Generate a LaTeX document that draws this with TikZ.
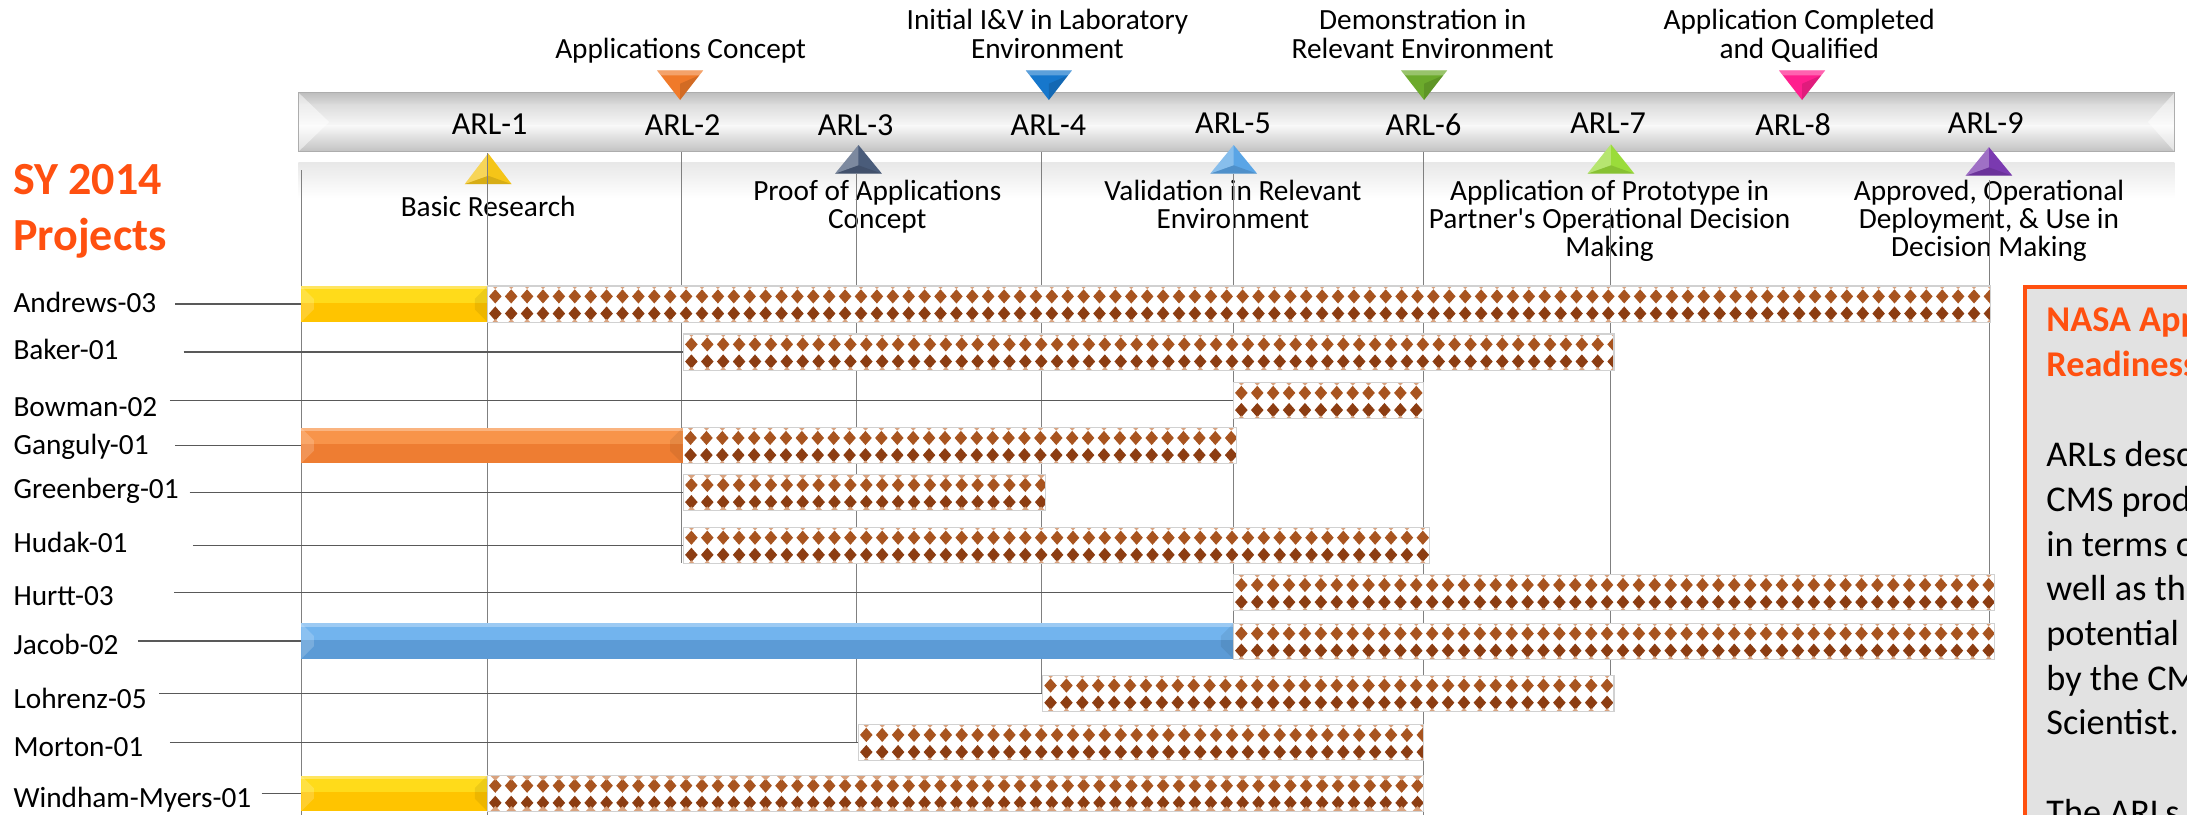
\documentclass[tikz,border=0pt]{standalone}
\usepackage{fontspec}
\setmainfont{Carlito}
\definecolor{ttlorange}{HTML}{FF5010}
\definecolor{boxgray}{HTML}{E2E2E2}
\definecolor{dmdA}{HTML}{A8541F}
\definecolor{dmdB}{HTML}{8C3D12}
\definecolor{tickc}{HTML}{D9A27E}
\definecolor{ylwL}{HTML}{FFDB1A}
\definecolor{ylwD}{HTML}{FFC400}
\definecolor{orgL}{HTML}{F8944A}
\definecolor{orgD}{HTML}{EE7D32}
\definecolor{bluL}{HTML}{72B4EE}
\definecolor{bluD}{HTML}{5C9BD6}
\definecolor{tA}{HTML}{F5C518}
\definecolor{tB}{HTML}{F07A2A}
\definecolor{tC}{HTML}{4A5C7A}
\definecolor{tD}{HTML}{1677CC}
\definecolor{tE}{HTML}{5AA5E6}
\definecolor{tF}{HTML}{6CAA2C}
\definecolor{tG}{HTML}{9ADC3A}
\definecolor{tH}{HTML}{FF1F8E}
\definecolor{tI}{HTML}{7A3AB0}
\definecolor{bnA}{HTML}{BEBEBE}
\definecolor{bnB}{HTML}{DCDCDC}
\definecolor{bnC}{HTML}{F8F8F8}
\definecolor{bnD}{HTML}{C2C2C2}

\newcommand{\patbar}[5]{%
  \node[patbox, minimum width={(#3-#2)*1pt}] (#1) at ({(#2+#3)/2},#4) {};
  \begin{scope}
    \clip (#2,#4-12.75) rectangle (#3,#4+12.75);
    \pgfmathtruncatemacro{\nd}{(#3-#2)/11.4}
    \foreach \k in {0,...,\nd}{
      \pgfmathsetmacro{\xx}{#2+5.7+\k*11.4}
      \fill[dmdA] (\xx,#4-10.6) -- (\xx+4.5,#4-5.5) -- (\xx,#4-0.4) -- (\xx-4.5,#4-5.5) -- cycle;
      \fill[dmdB] (\xx,#4+1.7) -- (\xx+4.5,#4+6.8) -- (\xx,#4+11.9) -- (\xx-4.5,#4+6.8) -- cycle;
      \fill[tickc] (\xx-#5,#4-12.75) -- (\xx+#5,#4-12.75) -- (\xx,#4-12.75+#5) -- cycle;
      \fill[tickc] (\xx-#5,#4+12.75) -- (\xx+#5,#4+12.75) -- (\xx,#4+12.75-#5) -- cycle;
    }
  \end{scope}
  \draw[draw=black!18, line width=0.8pt] (#1.south west) rectangle (#1.north east);
}
\newcommand{\solidbar}[6]{%
  \node[inner sep=0pt, minimum width={(#3-#2)*1pt}, minimum height=25.5pt, fill=#6] (#1) at ({(#2+#3)/2},#4) {};
  \fill[#5] (#2,#4-12.75) rectangle (#3,#4-1);
  \fill[white,opacity=0.3] (#2,#4-12.75) rectangle (#3,#4-10.5);
  \fill[white,opacity=0.18] (#2,#4-12.75) -- (#2+9,#4-3.75) -- (#2+9,#4+3.75) -- (#2,#4+12.75) -- cycle;
  \fill[black,opacity=0.07] (#3,#4-12.75) -- (#3-9,#4-3.75) -- (#3-9,#4+3.75) -- (#3,#4+12.75) -- cycle;
}
\newcommand{\trid}[3]{%
  \fill[#3] (#2-16.5,50.5) -- (#2+16.5,50.5) -- (#2,71.7) -- cycle;
  \fill[white,opacity=.3] (#2-16.5,50.5) -- (#2+16.5,50.5) -- (#2+13.8,54) -- (#2-13.8,54) -- cycle;
  \fill[black,opacity=.12] (#2,71.7) -- (#2+13.8,54) -- (#2,60) -- cycle;
  \coordinate (#1) at (#2,71.7);
}
\newcommand{\triu}[5]{%
  \fill[#5] (#2,#3) -- (#2+16.8,#4) -- (#2-16.8,#4) -- cycle;
  \fill[white,opacity=.28] (#2,#3) -- (#2,#4-6) -- (#2-16.8,#4) -- cycle;
  \fill[black,opacity=.12] (#2-16.8,#4) -- (#2+16.8,#4) -- (#2,#4-6) -- cycle;
  \coordinate (#1) at (#2,#4);
}

\begin{document}
\begin{tikzpicture}[x=1pt,y=-1pt,
  vline/.style={draw=black!50, line width=0.75pt},
  conn/.style={draw=black!65, line width=1pt},
  patbox/.style={fill=white, inner sep=0pt, minimum height=25.5pt},
  rowlab/.style={anchor=base west, inner sep=0pt, font=\fontsize{21}{21}\selectfont},
  arl/.style={anchor=base, inner sep=0pt, font=\fontsize{23}{23}\selectfont},
  mlab/.style={anchor=base, inner sep=0pt, align=center, font=\fontsize{21}{20.3}\selectfont},
  boxtxt/.style={anchor=base west, inner sep=0pt, align=left, font=\fontsize{26}{32}\selectfont}]
\clip (0,0) rectangle (1568,584);
\fill[white] (0,0) rectangle (1568,584);

% banner and its reflection
\shade[top color=black!9, bottom color=white] (214,116.5) rectangle (1559,142);
\shade[top color=bnA, bottom color=bnB] (214,66.4) rectangle (1559,75.5);
\shade[top color=bnB, bottom color=bnC] (214,75) rectangle (1559,90.5);
\shade[top color=bnC, bottom color=bnD] (214,90) rectangle (1559,108.7);
\fill[white,opacity=.5] (214,66.4) -- (236,87.5) -- (214,108.7) -- cycle;
\fill[white,opacity=.5] (1559,66.4) -- (1540,87.5) -- (1559,108.7) -- cycle;
\draw[black!32, line width=0.7pt] (214,66.4) rectangle (1559,108.7);

% milestone triangles
\trid{m2}{487.6}{tB}
\trid{m4}{752}{tD}
\trid{m6}{1021}{tF}
\trid{m8}{1292}{tH}
\triu{m1}{350}{110}{132}{tA}
\triu{m3}{615.5}{104}{124.5}{tC}
\triu{m5}{884.5}{104}{124.5}{tE}
\triu{m7}{1155}{103.5}{124.5}{tG}
\triu{m9}{1426}{105.5}{126}{tI}

% ARL labels
\node[arl] (arl1) at (351,96.1) {ARL-1};
\node[arl] (arl2) at (489.4,97.5) {ARL-2};
\node[arl] (arl3) at (613.5,97.3) {ARL-3};
\node[arl] (arl4) at (751.7,97.3) {ARL-4};
\node[arl] (arl5) at (884,95.4) {ARL-5};
\node[arl] (arl6) at (1020.6,97.3) {ARL-6};
\node[arl] (arl7) at (1153,95.4) {ARL-7};
\node[arl] (arl8) at (1285.6,96.8) {ARL-8};
\node[arl] (arl9) at (1423.7,95.4) {ARL-9};

% milestone descriptions (base = last line)
\node[mlab] (t2) at (488,41.8) {Applications Concept};
\node[mlab] (t4) at (751,41.8) {Initial I\&V in Laboratory\\Environment};
\node[mlab] (t6) at (1020,41.8) {Demonstration in\\Relevant Environment};
\node[mlab] (t8) at (1290,41.8) {Application Completed\\and Qualified};
\node[mlab] (b1) at (350,155) {Basic Research};
\node[mlab] (b3) at (629,163.7) {Proof of Applications\\Concept};
\node[mlab] (b5) at (884,163.7) {Validation in Relevant\\Environment};
\node[mlab] (b7) at (1154,184) {Application of Prototype in\\Partner\textquotesingle s Operational Decision\\Making};
\node[mlab] (b9) at (1426,184) {Approved, Operational\\Deployment, \& Use in\\Decision Making};

% title
\node[anchor=base west, inner sep=0pt, align=left, text=ttlorange,
      font=\fontsize{33}{40}\selectfont\bfseries] (title) at (9.2,179.3) {SY 2014\\Projects};

% vertical milestone lines
\coordinate (v0a) at (216,122);   \coordinate (v0b) at (216,584);
\coordinate (v1a) at (349.5,110); \coordinate (v1b) at (349.5,584);
\coordinate (v2a) at (488.6,108.7); \coordinate (v2b) at (488.6,403.8);
\coordinate (v3a) at (614,124.5); \coordinate (v3b) at (614,532.4);
\coordinate (v4a) at (746.5,108.7); \coordinate (v4b) at (746.5,497);
\coordinate (v5a) at (884.3,124.5); \coordinate (v5b) at (884.3,447);
\coordinate (v6a) at (1020.5,108.7); \coordinate (v6b) at (1020.5,584);
\coordinate (v7a) at (1154.6,149); \coordinate (v7b) at (1154.6,484.8);
\coordinate (v9a) at (1426.6,129); \coordinate (v9b) at (1426.6,447);
\foreach \v in {0,1,2,3,4,5,6,7,9}{\draw[vline] (v\v a) -- (v\v b);}

% row labels
\node[rowlab] (l-andrews) at (9.5,224.2) {Andrews-03};
\node[rowlab] (l-baker) at (9.5,257.6) {Baker-01};
\node[rowlab] (l-bowman) at (9.5,298.3) {Bowman-02};
\node[rowlab] (l-ganguly) at (9.5,325.7) {Ganguly-01};
\node[rowlab] (l-greenberg) at (9.5,357.5) {Greenberg-01};
\node[rowlab] (l-hudak) at (9.5,396.2) {Hudak-01};
\node[rowlab] (l-hurtt) at (9.5,433.8) {Hurtt-03};
\node[rowlab] (l-jacob) at (9.5,469.1) {Jacob-02};
\node[rowlab] (l-lohrenz) at (9.5,507.9) {Lohrenz-05};
\node[rowlab] (l-morton) at (9.5,542.5) {Morton-01};
\node[rowlab] (l-windham) at (9.5,579.1) {Windham-Myers-01};

% bars
\patbar{p-andrews}{349.4}{1427}{218}{2}
\solidbar{s-andrews}{216}{349.4}{218}{ylwL}{ylwD}
\patbar{p-baker}{490}{1157}{252.4}{2}
\patbar{p-bowman}{884.3}{1020.7}{287.2}{2}
\patbar{p-ganguly}{489.4}{886.2}{319.5}{2}
\solidbar{s-ganguly}{216}{489.4}{319.5}{orgL}{orgD}
\patbar{p-greenberg}{490}{749.3}{353.2}{2.8}
\patbar{p-hudak}{490}{1024.8}{391}{2}
\patbar{p-hurtt}{884.3}{1430}{424.9}{2}
\patbar{p-jacob}{884.3}{1430}{459.7}{2}
\solidbar{s-jacob}{216}{884.3}{459.7}{bluL}{bluD}
\patbar{p-lohrenz}{747.5}{1157}{497}{2}
\patbar{p-morton}{615.4}{1020.7}{532.4}{2}
\patbar{p-windham}{349.4}{1020.7}{568.8}{3.6}
\solidbar{s-windham}{216}{349.4}{568.8}{ylwL}{ylwD}

% connectors from labels to bars
\coordinate (c-andrews) at (125.5,218);
\coordinate (c-baker) at (131.7,252.4);
\coordinate (c-bowman) at (121.8,287.2);
\coordinate (c-ganguly) at (125.5,319.5);
\coordinate (c-greenberg) at (136,353.2);
\coordinate (c-hudak) at (138.3,391);
\coordinate (c-hurtt) at (125.1,424.9);
\coordinate (c-jacob) at (98.8,459.7);
\coordinate (c-lohrenz) at (114.1,497);
\coordinate (c-morton) at (121.8,532.4);
\coordinate (c-windham) at (187.6,568.8);
\draw[conn] (c-andrews) -- (s-andrews.west);
\draw[conn] (c-baker) -- (p-baker.west);
\draw[conn] (c-bowman) -- (p-bowman.west);
\draw[conn] (c-ganguly) -- (s-ganguly.west);
\draw[conn] (c-greenberg) -- (p-greenberg.west);
\draw[conn] (c-hudak) -- (p-hudak.west);
\draw[conn] (c-hurtt) -- (p-hurtt.west);
\draw[conn] (c-jacob) -- (s-jacob.west);
\draw[conn] (c-lohrenz) -- (p-lohrenz.west);
\draw[conn] (c-morton) -- (p-morton.west);
\draw[conn] (c-windham) -- (s-windham.west);

% information box
\draw[draw=ttlorange, fill=boxgray, line width=3pt] (1452,205.8) rectangle (1620,640);
\node[boxtxt, text=ttlorange, font=\fontsize{26}{32}\selectfont\bfseries] (boxttl) at (1467,270) {NASA Applications\\Readiness Levels};
\node[boxtxt] (boxbody) at (1467,590.8) {ARLs describe\\CMS products\\in terms of\\well as the\\potential\\by the CMS\\Scientist.\\[32pt]The ARLs};
\end{tikzpicture}
\end{document}
